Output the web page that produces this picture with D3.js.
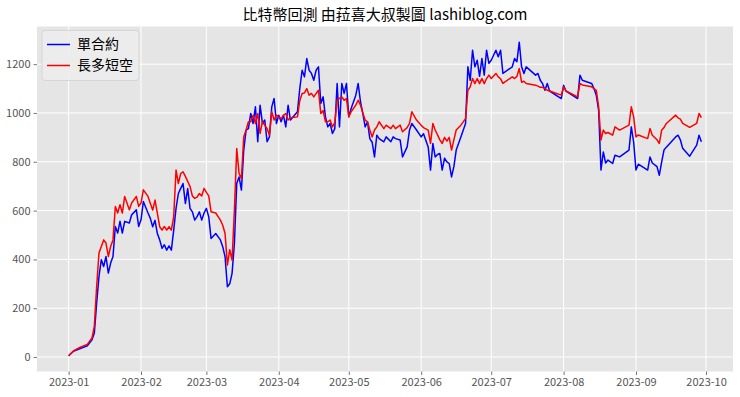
<!DOCTYPE html>
<html>
<head>
<meta charset="utf-8">
<script src="https://cdn.jsdelivr.net/npm/d3@7"></script>
<style>
  body { margin: 0; background: #fff; }
  text { font-family: "Noto Sans CJK TC", "Noto Sans", sans-serif; }
</style>
</head>
<body>
<svg></svg>
<script>
const width = 740,
      height = 397

const year = 2023
const title = "比特幣回測 由菈喜大叔製圖 lashiblog.com"
const seriesNames = ["單合約", "長多短空"]
const seriesColors = ["#0000ff", "#ff0000"]

// month-day of each sample (2023)
const dates = ["01-01","01-03","01-06","01-09","01-11","01-12","01-13","01-14","01-15","01-16",
"01-17","01-18","01-19","01-20","01-21","01-22","01-23","01-24","01-25","01-27",
"01-28","01-30","01-31","02-01","02-02","02-04","02-05","02-06","02-07","02-08",
"02-09","02-10","02-11","02-12","02-13","02-14","02-15","02-16","02-17","02-18",
"02-19","02-20","02-21","02-22","02-23","02-24","02-25","02-26","02-27","02-28",
"03-01","03-02","03-03","03-05","03-07","03-08","03-09","03-10","03-11","03-12",
"03-13","03-14","03-15","03-16","03-17","03-18","03-19","03-20","03-21","03-22",
"03-23","03-24","03-25","03-26","03-27","03-28","03-29","03-30","03-31","04-01",
"04-02","04-03","04-04","04-05","04-06","04-09","04-10","04-11","04-12","04-13",
"04-14","04-15","04-16","04-17","04-18","04-19","04-20","04-21","04-22","04-23",
"04-24","04-25","04-26","04-27","04-28","04-29","04-30","05-01","05-02","05-04",
"05-05","05-06","05-07","05-08","05-09","05-10","05-11","05-12","05-13","05-14",
"05-16","05-17","05-19","05-20","05-21","05-23","05-24","05-26","05-27","05-28",
"05-30","06-01","06-02","06-04","06-05","06-06","06-07","06-08","06-09","06-10",
"06-11","06-12","06-13","06-14","06-15","06-16","06-18","06-20","06-21","06-22",
"06-23","06-24","06-25","06-26","06-27","06-28","06-29","06-30","07-01","07-03",
"07-04","07-05","07-06","07-10","07-11","07-12","07-13","07-14","07-15","07-16",
"07-20","07-21","07-22","07-23","07-24","07-25","07-26","07-31","08-01","08-02",
"08-07","08-08","08-09","08-13","08-14","08-15","08-16","08-17","08-18","08-19",
"08-20","08-22","08-23","08-25","08-29","08-30","08-31","09-01","09-02","09-06",
"09-07","09-08","09-10","09-11","09-12","09-13","09-14","09-18","09-19","09-20",
"09-21","09-24","09-27","09-28","09-29"]

// 單合約
const singleContract = [5,23,35,46,71,98,221,330,399,371,
412,344,385,412,535,508,556,508,556,549,
583,603,535,562,637,590,568,534,560,506,
480,445,460,438,455,438,520,609,670,691,
711,629,690,609,595,561,575,595,561,590,
609,575,486,506,480,452,411,288,300,343,
465,711,738,684,848,930,936,998,957,1025,
882,1032,957,971,882,902,1025,1059,957,991,
964,991,943,1032,971,1005,1100,1175,1148,1223,
1175,1162,1134,1175,1189,1039,1066,984,943,957,
916,936,1121,943,1121,1080,1121,984,1018,1073,
1121,1046,998,943,964,895,880,820,909,895,
882,902,882,902,895,889,820,861,930,957,
930,902,915,861,766,875,820,830,834,766,
815,800,793,738,780,848,902,957,1189,1134,
1257,1189,1216,1150,1223,1155,1257,1203,1216,1257,
1230,1257,1162,1189,1223,1210,1290,1189,1162,1189,
1155,1162,1134,1120,1093,1121,1090,1059,1113,1090,
1059,1155,1134,1121,1100,1073,1011,766,840,795,
807,793,827,820,848,943,880,766,790,766,
820,795,780,745,800,848,860,902,909,890,
855,823,868,909,882]

// 長多短空
const longShort = [5,25,40,52,78,126,289,426,453,480,
467,412,453,480,617,590,624,590,658,603,
631,658,617,631,685,658,629,602,643,590,
534,520,535,520,534,520,575,766,711,752,
759,740,720,698,660,650,655,670,660,691,
675,660,595,590,561,540,506,377,440,397,
602,854,752,731,902,930,964,964,991,957,
998,916,964,950,936,909,1005,971,991,984,
977,990,998,971,980,984,1050,1080,1082,1100,
1073,1080,1066,1080,1093,998,1010,964,964,971,
943,960,1052,1060,1066,1052,1059,984,1005,1032,
1052,1032,1000,971,964,930,902,930,943,964,
936,950,936,950,936,950,923,940,957,1005,
971,950,940,930,875,957,930,910,890,875,
900,885,900,848,890,930,950,977,1093,1107,
1141,1120,1141,1120,1141,1120,1141,1155,1141,1162,
1148,1140,1121,1148,1141,1150,1182,1126,1130,1121,
1114,1110,1105,1105,1100,1093,1090,1073,1107,1090,
1066,1121,1115,1107,1100,1093,1025,889,930,916,
920,909,943,930,950,1025,984,902,910,895,
936,909,890,875,930,940,957,991,980,975,
957,941,957,998,981]

const yTicks = [0, 200, 400, 600, 800, 1000, 1200]
const monthTicks = ["01","02","03","04","05","06","07","08","09","10"]

const parseDate = d3.timeParse("%Y-%m-%d")
const data = dates.map((d, i) => ({
  date: parseDate(`${year}-${d}`),
  values: [singleContract[i], longShort[i]]
}))

const plot = {left: 37, right: 733, top: 26.5, bottom: 371.5}

// matplotlib style 5% margins
const xExt = d3.extent(data, d => d.date)
const xPad = (xExt[1] - xExt[0]) * 0.05
const allValues = singleContract.concat(longShort)
const yExt = d3.extent(allValues)
const yPad = (yExt[1] - yExt[0]) * 0.05

const x = d3.scaleTime()
  .domain([new Date(+xExt[0] - xPad), new Date(+xExt[1] + xPad)])
  .range([plot.left, plot.right])

const y = d3.scaleLinear()
  .domain([yExt[0] - yPad, yExt[1] + yPad])
  .range([plot.bottom, plot.top])

const svg = d3.select("svg")
  .attr("width", width)
  .attr("height", height)

svg.append("rect")
  .attr("x", plot.left)
  .attr("y", plot.top)
  .attr("width", plot.right - plot.left)
  .attr("height", plot.bottom - plot.top)
  .attr("fill", "#e5e5e5")

const xTickDates = monthTicks.map(m => parseDate(`${year}-${m}-01`))

// grid
svg.append("g")
  .selectAll("line")
  .data(yTicks)
  .join("line")
    .attr("x1", plot.left)
    .attr("x2", plot.right)
    .attr("y1", d => y(d))
    .attr("y2", d => y(d))
    .attr("stroke", "#fff")
    .attr("stroke-width", 1)

svg.append("g")
  .selectAll("line")
  .data(xTickDates)
  .join("line")
    .attr("x1", d => x(d))
    .attr("x2", d => x(d))
    .attr("y1", plot.top)
    .attr("y2", plot.bottom)
    .attr("stroke", "#fff")
    .attr("stroke-width", 1)

// axes
const xAxis = svg.append("g")
  .attr("transform", `translate(0,${plot.bottom})`)
  .call(d3.axisBottom(x)
    .tickValues(xTickDates)
    .tickFormat(d3.timeFormat("%Y-%m"))
    .tickSize(3.5)
    .tickPadding(3))

const yAxis = svg.append("g")
  .attr("transform", `translate(${plot.left},0)`)
  .call(d3.axisLeft(y)
    .tickValues(yTicks)
    .tickFormat(d3.format("d"))
    .tickSize(3.5)
    .tickPadding(3))

for (const ax of [xAxis, yAxis]) {
  ax.select(".domain").remove()
  ax.selectAll(".tick line").attr("stroke", "#555555").attr("stroke-width", 0.8)
  ax.selectAll(".tick text")
    .attr("fill", "#555555")
    .style("font-size", "11px")
}

// lines
const line = k => d3.line()
  .x(d => x(d.date))
  .y(d => y(d.values[k]))

seriesNames.forEach((name, k) => {
  svg.append("path")
    .datum(data)
    .attr("fill", "none")
    .attr("stroke", seriesColors[k])
    .attr("stroke-width", 1.5)
    .attr("stroke-linejoin", "round")
    .attr("d", line(k))
})

// title
svg.append("text")
  .attr("x", (plot.left + plot.right) / 2)
  .attr("y", 20)
  .attr("text-anchor", "middle")
  .style("font-size", "15px")
  .attr("fill", "#000")
  .text(title)

// legend
const legend = svg.append("g")
  .attr("transform", `translate(${plot.left + 5},${plot.top + 4})`)

legend.append("rect")
  .attr("width", 97)
  .attr("height", 50)
  .attr("rx", 3)
  .attr("fill", "#ececec")
  .attr("fill-opacity", 0.9)
  .attr("stroke", "#d6d6d6")
  .attr("stroke-width", 1)

seriesNames.forEach((name, k) => {
  const row = legend.append("g")
    .attr("transform", `translate(0,${14 + k * 21})`)
  row.append("line")
    .attr("x1", 5)
    .attr("x2", 28)
    .attr("stroke", seriesColors[k])
    .attr("stroke-width", 1.5)
  row.append("text")
    .attr("x", 35)
    .attr("dy", "0.35em")
    .style("font-size", "14px")
    .attr("fill", "#000")
    .text(name)
})
</script>
</body>
</html>
